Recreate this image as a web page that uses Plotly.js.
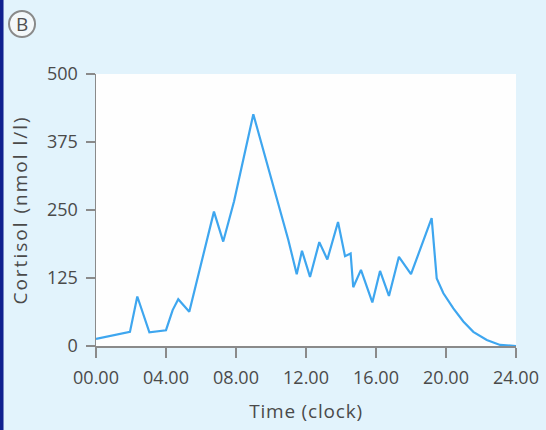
<!DOCTYPE html>
<html>
<head>
<meta charset="utf-8">
<script src="https://cdn.plot.ly/plotly-3.0.1.min.js"></script>
<style>
html,body{margin:0;padding:0;background:#e2f3fc;}
#chart{width:546px;height:430px;}
#chart .ytitle{letter-spacing:2px;}
#chart .xtitle{letter-spacing:0.8px;}
</style>
</head>
<body>
<div id="chart"></div>
<script>
// Time of day (hours) and cortisol (nmol l/l)
var timeHours = [0, 1.94, 2.36, 3.05, 4.0, 4.38, 4.70, 5.33, 6.74, 7.27, 7.89, 8.99, 10.99, 11.47, 11.77, 12.23, 12.76, 13.22, 13.83, 14.23, 14.55, 14.70, 15.14, 15.79, 16.23, 16.74, 17.31, 18.0, 19.18, 19.47, 19.85, 20.42, 20.99, 21.56, 22.33, 23.09, 24];
var cortisol  = [13, 26, 91, 25, 29, 66, 86, 63, 247, 192, 266, 426, 195, 132, 175, 127, 191, 159, 228, 165, 170, 108, 140, 80, 138, 92, 164, 132, 235, 124, 97, 69, 45, 26, 11, 2, 0];
var xTickVals = [0, 4, 8, 12, 16, 20, 24];
var xTickText = ['00.00', '04.00', '08.00', '12.00', '16.00', '20.00', '24.00'];
var yTickVals = [0, 125, 250, 375, 500];
var panelLabel = 'B';

var font = '"Open Sans", "Noto Sans", sans-serif';
var txt = '#4a4a4a';
var data = [{
  x: timeHours, y: cortisol, type: 'scatter', mode: 'lines',
  line: {color: '#3ea6ef', width: 2.2}, hoverinfo: 'skip'
}];
var layout = {
  width: 546, height: 430,
  margin: {l: 96, r: 30, t: 74, b: 84},
  paper_bgcolor: '#e2f3fc', plot_bgcolor: '#fefefe',
  showlegend: false,
  font: {family: font, color: txt},
  xaxis: {
    range: [0, 24], tickvals: xTickVals, ticktext: xTickText,
    ticks: 'outside', ticklen: 10, tickcolor: '#8a8a8a', tickwidth: 1.2,
    showline: true, linecolor: '#8a8a8a', linewidth: 1.5,
    showgrid: false, zeroline: false, fixedrange: true,
    tickfont: {size: 18, family: font, color: txt},
    ticklabelstandoff: 5,
    title: {text: 'Time (clock)', font: {size: 19, family: font, color: txt}, standoff: 16}
  },
  yaxis: {
    range: [0, 500], tickvals: yTickVals,
    ticks: 'outside', ticklen: 9, tickcolor: '#8a8a8a', tickwidth: 1.2,
    showline: true, linecolor: '#8a8a8a', linewidth: 1.5,
    showgrid: false, zeroline: false, fixedrange: true,
    tickfont: {size: 18, family: font, color: txt},
    ticklabelstandoff: 4,
    title: {text: 'Cortisol (nmol l/l)', font: {size: 19, family: font, color: txt}, standoff: 14}
  },
  shapes: [
    {type: 'rect', xref: 'paper', yref: 'paper', x0: -0.2286, x1: -0.2202, y0: -0.31, y1: 1.275,
     fillcolor: '#10208f', line: {width: 0}, layer: 'above'},
    {type: 'circle', xref: 'paper', yref: 'paper', x0: -0.2071, x1: -0.1452, y0: 1.136, y1: 1.2316,
     fillcolor: '#f4f8fa', line: {color: '#8a8a8a', width: 2}}
  ],
  annotations: [
    {xref: 'paper', yref: 'paper', x: -0.1762, y: 1.1838, text: panelLabel, showarrow: false,
     font: {size: 19, family: font, color: '#505050'}, xanchor: 'center', yanchor: 'middle'}
  ]
};
Plotly.newPlot('chart', data, layout, {displayModeBar: false, staticPlot: true});
</script>
</body>
</html>
